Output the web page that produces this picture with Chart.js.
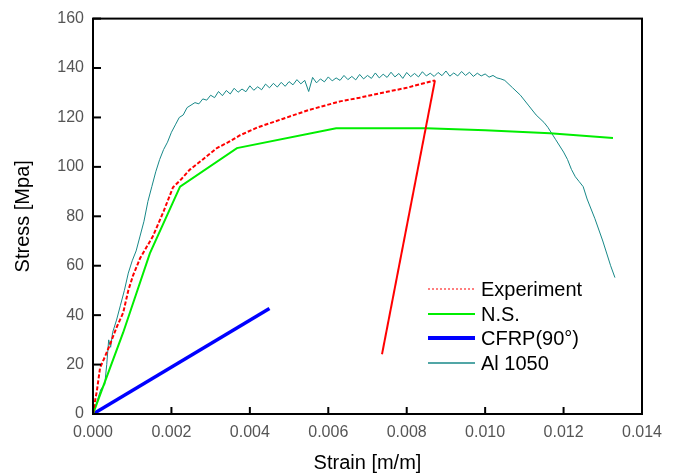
<!DOCTYPE html>
<html>
<head>
<meta charset="utf-8">
<script src="https://cdn.jsdelivr.net/npm/chart.js@4/dist/chart.umd.min.js"></script>
<style>
  body { margin: 0; background: #fff; }
</style>
</head>
<body>
<canvas id="stress-strain-chart" width="675" height="475"></canvas>
<script>
/* Data */
let seriesNames = [ 'Experiment', 'N.S.', 'CFRP(90°)', 'Al 1050' ]

let expStrain = [ 0, 0.00005, 0.0001, 0.00018, 0.0003, 0.00043, 0.0006, 0.00077, 0.0009, 0.00102, 0.0012, 0.00153, 0.0018, 0.00204, 0.00225, 0.00247, 0.0028, 0.00316, 0.00345, 0.00375, 0.0042, 0.00485, 0.0055, 0.0063, 0.0068, 0.00732, 0.008, 0.00872, 0.00737 ]
let expStress = [ 0, 5, 9.5, 18.7, 23, 28, 35, 41, 50, 56, 63, 72, 82, 91.7, 95, 98.9, 103, 107.6, 110, 112.8, 116, 119.5, 123, 126.5, 128, 129.8, 132, 135, 24.2 ]

let nsStrain = [ 0, 0.00077, 0.00145, 0.00222, 0.00367, 0.0062, 0.0085, 0.0100, 0.01165, 0.01326 ]
let nsStress = [ 0, 33, 65, 92, 107.6, 115.6, 115.6, 114.8, 113.6, 111.7 ]

let cfrpStrain = [ 0, 0.0045 ]
let cfrpStress = [ 0, 42.7 ]

// Al 1050: rise, noisy plateau, then the drop
let alStrain = [ 0, 0.0001, 0.0002, 0.0003, 0.00035, 0.0004, 0.00045, 0.0005, 0.0006, 0.0007, 0.0008, 0.0009, 0.001, 0.0011, 0.0012, 0.0013, 0.0014, 0.0015, 0.0016, 0.0017, 0.0018, 0.0019, 0.002, 0.0021, 0.0022, 0.0023, 0.0024, 0.0025, 0.0026, 0.0027, 0.0028, 0.0029, 0.003, 0.0031,
  0.0032, 0.0033, 0.0034, 0.0035, 0.0036, 0.0037, 0.0038, 0.0039, 0.004, 0.0041, 0.0042, 0.0043, 0.0044, 0.0045, 0.0046, 0.0047, 0.0048, 0.0049, 0.005, 0.0051, 0.0052, 0.0053, 0.0054, 0.0055, 0.0056, 0.0057, 0.0058, 0.0059,
  0.006, 0.0061, 0.0062, 0.0063, 0.0064, 0.0065, 0.0066, 0.0067, 0.0068, 0.0069, 0.007, 0.0071, 0.0072, 0.0073, 0.0074, 0.0075, 0.0076, 0.0077, 0.0078, 0.0079,
  0.008, 0.0081, 0.0082, 0.0083, 0.0084, 0.0085, 0.0086, 0.0087, 0.0088, 0.0089, 0.009, 0.0091, 0.0092, 0.0093, 0.0094, 0.0095, 0.0096, 0.0097, 0.0098, 0.0099,
  0.01, 0.0101, 0.0102, 0.0103, 0.0104,
  0.0105, 0.0107, 0.0109, 0.0111, 0.0113, 0.0115, 0.0116, 0.0118, 0.012, 0.0121, 0.0122, 0.0123, 0.0124, 0.0125, 0.0126, 0.0128, 0.013, 0.0132, 0.01331 ]
let alStress = [ 0, 5, 10, 12, 20, 30, 27, 33, 38, 44, 50, 57, 62, 66, 72, 78, 86, 92, 98, 103, 107, 110, 114, 117, 120, 121, 124, 125, 126, 125.5, 127.5, 127, 129, 128,
  130.5, 128.8, 130.9, 129.5, 131.8, 130.2, 131.5, 130.4, 132.8, 131.0, 132.4, 131.2, 133.5, 132.0, 133.8, 132.3, 134.2, 132.6, 134.5, 133.2, 135.3, 133.6, 135.0, 130.5, 136.2, 134.0, 135.6, 134.4,
  136.4, 134.8, 136.0, 135.0, 137.0, 135.3, 136.6, 135.2, 137.4, 135.6, 137.0, 135.8, 138.0, 136.0, 137.5, 136.2, 138.3, 136.4, 137.8, 135.8,
  138.2, 136.5, 137.8, 136.4, 138.5, 136.8, 137.9, 136.6, 138.2, 136.9, 138.8, 136.7, 138.0, 136.8, 138.6, 137.0, 138.3, 136.6, 137.9, 136.8,
  137.6, 136.3, 137.0, 136.0, 135.6,
  135, 132, 129, 125, 121, 118, 116, 111, 106, 103, 99, 96, 94, 92, 87, 79, 70, 60, 55.2 ]

// x ticks every 0.002, y ticks every 20
let xTicks = [ 0, 0.002, 0.004, 0.006, 0.008, 0.010, 0.012, 0.014 ]
let yTicks = [ 0, 20, 40, 60, 80, 100, 120, 140, 160 ]

function toPoints(xs, ys) {
    return xs.map(function(x, i) { return { x: x, y: ys[i] } })
}

let lastExp = expStrain.length - 1

// draws the frame, the inward ticks and the legend box
let framePlugin = {
    id: 'frame',
    afterDraw: function(chart) {
        let ctx = chart.ctx
        let area = chart.chartArea
        let xs = chart.scales.x
        let ys = chart.scales.y
        ctx.save()
        ctx.strokeStyle = '#000'
        ctx.lineWidth = 2
        ctx.strokeRect(area.left, area.top, area.right - area.left, area.bottom - area.top)

        xTicks.forEach(function(t) {
            let px = xs.getPixelForValue(t)
            ctx.beginPath()
            ctx.moveTo(px, area.bottom)
            ctx.lineTo(px, area.bottom - 7)
            ctx.stroke()
        })
        yTicks.forEach(function(t) {
            let py = ys.getPixelForValue(t)
            ctx.beginPath()
            ctx.moveTo(area.left, py)
            ctx.lineTo(area.left + 8, py)
            ctx.stroke()
        })

        // legend
        let rows = [ 289, 314, 338, 363 ]
        ctx.font = '20px "Liberation Sans", Arial, sans-serif'
        ctx.textBaseline = 'middle'
        ctx.textAlign = 'left'
        chart.data.datasets.forEach(function(ds, i) {
            ctx.beginPath()
            ctx.strokeStyle = ds.borderColor
            ctx.lineWidth = ds.legendWidth
            ctx.setLineDash(ds.legendDash)
            ctx.moveTo(428, rows[i])
            ctx.lineTo(475, rows[i])
            ctx.stroke()
            ctx.setLineDash([])
            ctx.fillStyle = '#000'
            ctx.fillText(ds.label, 481, rows[i] + 1)
        })
        ctx.restore()
    }
}

let chartCanvas = document.querySelector('#stress-strain-chart')
let chart = new Chart(chartCanvas.getContext('2d'), {
    type: 'scatter',
    data: {
        datasets: [
            {
                label: seriesNames[0],
                data: toPoints(expStrain, expStress),
                borderColor: '#ff0000',
                borderWidth: 2,
                legendWidth: 1,
                legendDash: [2, 2],
                segment: {
                    borderDash: function(c) { return c.p1DataIndex === lastExp ? [] : [4, 2] }
                }
            },
            {
                label: seriesNames[1],
                data: toPoints(nsStrain, nsStress),
                borderColor: '#00ee00',
                borderWidth: 2,
                legendWidth: 2,
                legendDash: []
            },
            {
                label: seriesNames[2],
                data: toPoints(cfrpStrain, cfrpStress),
                borderColor: '#0000ff',
                borderWidth: 3.5,
                legendWidth: 4,
                legendDash: []
            },
            {
                label: seriesNames[3],
                data: toPoints(alStrain, alStress),
                borderColor: '#178888',
                borderWidth: 1,
                legendWidth: 1.5,
                legendDash: []
            }
        ]
    },
    options: {
        responsive: false,
        animation: false,
        devicePixelRatio: 1,
        showLine: true,
        elements: { point: { radius: 0 }, line: { tension: 0 } },
        layout: { padding: { top: 11, right: 33, left: 0, bottom: 0 } },
        plugins: { legend: { display: false }, tooltip: { enabled: false } },
        scales: {
            x: {
                type: 'linear',
                min: 0,
                max: 0.014,
                afterFit: function(s) { s.height = 61 },
                afterBuildTicks: function(s) { s.ticks = xTicks.map(function(v) { return { value: v } }) },
                grid: { display: false, drawTicks: false },
                border: { display: false },
                ticks: {
                    padding: 9,
                    color: '#555',
                    font: { family: '"Liberation Sans", Arial', size: 16 },
                    callback: function(v) { return v.toFixed(3) }
                },
                title: {
                    display: true,
                    text: 'Strain [m/m]',
                    color: '#000',
                    padding: { top: 0, bottom: 0 },
                    font: { family: '"Liberation Sans", Arial', size: 20 }
                }
            },
            y: {
                min: 0,
                max: 160,
                afterFit: function(s) { s.width = 93 },
                afterBuildTicks: function(s) { s.ticks = yTicks.map(function(v) { return { value: v } }) },
                grid: { display: false, drawTicks: false },
                border: { display: false },
                ticks: {
                    padding: 9,
                    color: '#555',
                    font: { family: '"Liberation Sans", Arial', size: 16 }
                },
                title: {
                    display: true,
                    text: 'Stress [Mpa]',
                    color: '#000',
                    padding: { top: 11, bottom: 0 },
                    font: { family: '"Liberation Sans", Arial', size: 20 }
                }
            }
        }
    },
    plugins: [ framePlugin ]
})
</script>
</body>
</html>
